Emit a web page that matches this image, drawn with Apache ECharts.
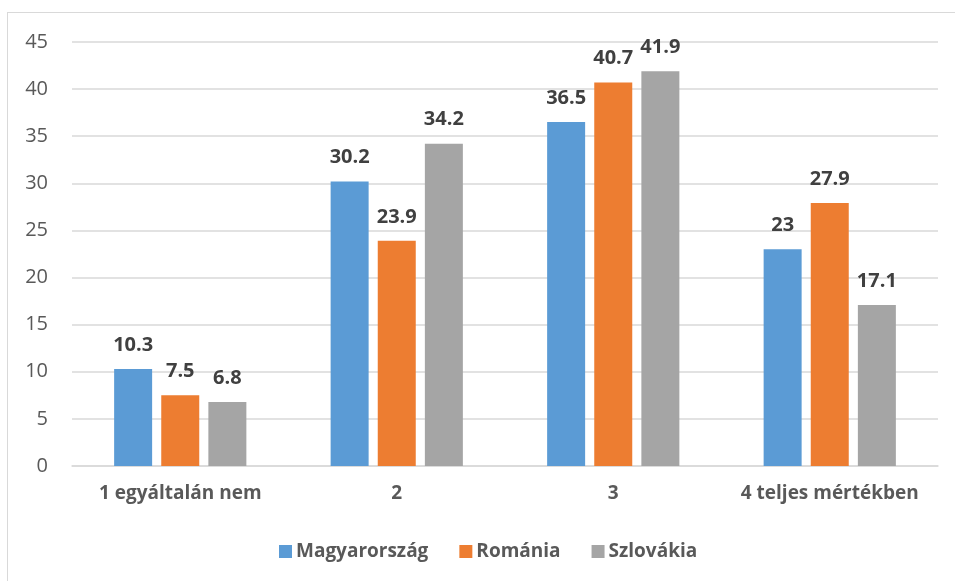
<!DOCTYPE html>
<html>
<head>
<meta charset="utf-8">
<script src="https://cdn.jsdelivr.net/npm/echarts@6/dist/echarts.min.js"></script>
<style>
  html, body { margin: 0; padding: 0; background: #ffffff; }
  #wrap { position: relative; width: 955px; height: 581px; overflow: hidden; }
  #frame { position: absolute; left: 7px; top: 12px; width: 1000px; height: 700px;
           border: 1px solid #d9d9d9; box-sizing: border-box; }
  #chart { position: absolute; left: 0; top: 0; width: 955px; height: 581px; }
</style>
</head>
<body>
<div id="wrap">
  <div id="frame"></div>
  <div id="chart"></div>
</div>
<script>
// Answer categories and values per country
const categories = ['1 egyáltalán nem', '2', '3', '4 teljes mértékben'];
const seriesNames = ['Magyarország', 'Románia', 'Szlovákia'];
const magyarorszag = [10.3, 30.2, 36.5, 23];
const romania = [7.5, 23.9, 40.7, 27.9];
const szlovakia = [6.8, 34.2, 41.9, 17.1];
const yTicks = { min: 0, max: 45, interval: 5 };

const colors = ['#5b9bd5', '#ed7d31', '#a5a5a5'];
const fontFamily = '"Open Sans", "Liberation Sans", sans-serif';

function barSeries(name, data, color) {
  return {
    name: name,
    type: 'bar',
    data: data,
    barWidth: 38,
    barGap: '24%',
    itemStyle: { color: color },
    label: {
      show: true,
      position: 'top',
      distance: 14,
      color: '#404040',
      fontFamily: fontFamily,
      fontWeight: 'bold',
      fontSize: 20
    }
  };
}

const chart = echarts.init(document.getElementById('chart'), null, { renderer: 'canvas' });
chart.setOption({
  animation: false,
  color: colors,
  grid: { left: 72, right: 17, top: 42, bottom: 115, containLabel: false },
  legend: {
    data: seriesNames,
    left: 274,
    top: 537,
    itemWidth: 13,
    itemHeight: 13,
    itemGap: 31,
    icon: 'rect',
    textStyle: { color: '#595959', fontFamily: fontFamily, fontWeight: 'bold', fontSize: 19, padding: [0, 0, 0, -1] }
  },
  xAxis: {
    type: 'category',
    data: categories,
    axisTick: { show: false },
    axisLine: { lineStyle: { color: '#d9d9d9', width: 1.5 } },
    axisLabel: { interval: 0, color: '#595959', fontFamily: fontFamily, fontWeight: 'bold', fontSize: 19, margin: 18 }
  },
  yAxis: {
    type: 'value',
    min: yTicks.min,
    max: yTicks.max,
    interval: yTicks.interval,
    axisLine: { show: false },
    axisTick: { show: false },
    splitLine: { lineStyle: { color: '#d9d9d9', width: 1.5 } },
    axisLabel: { color: '#595959', fontFamily: fontFamily, fontSize: 20, margin: 24 }
  },
  series: [
    barSeries(seriesNames[0], magyarorszag, colors[0]),
    barSeries(seriesNames[1], romania, colors[1]),
    barSeries(seriesNames[2], szlovakia, colors[2])
  ]
});
</script>
</body>
</html>
